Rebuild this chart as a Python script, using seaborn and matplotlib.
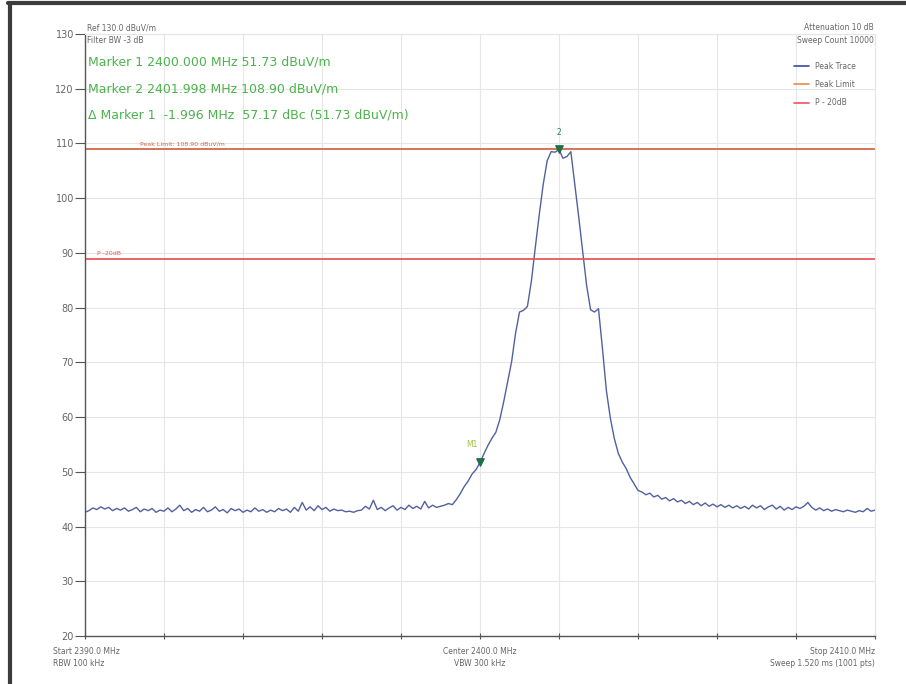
"""
Spectrum analyzer style plot of a 2.4 GHz emission (peak trace with limits).
"""
import numpy as np
import matplotlib.pyplot as plt
import seaborn as sns
from matplotlib.lines import Line2D

# sweep 2390 - 2410 MHz, trace read every 0.1 MHz
start_mhz = 2390.0
stop_mhz = 2410.0
peak_trace = [
    42.6, 42.9, 43.4, 43.1, 43.6, 43.2, 43.5, 42.9, 43.3, 43.0,
    43.4, 42.8, 43.1, 43.5, 42.7, 43.2, 42.9, 43.3, 42.6, 43.0,
    42.8, 43.4, 42.7, 43.2, 43.9, 42.9, 43.3, 42.6, 43.1, 42.8,
    43.5, 42.7, 43.0, 43.6, 42.8, 43.1, 42.5, 43.3, 42.9, 43.2,
    42.6, 43.0, 42.7, 43.4, 42.8, 43.1, 42.6, 43.0, 42.7, 43.3,
    42.9, 43.2, 42.6, 43.5, 42.8, 44.4, 43.0, 43.6, 42.9, 43.8,
    43.1, 43.5, 42.8, 43.2, 42.9, 43.0, 42.7, 42.8, 42.6, 42.9,
    43.0, 43.7, 43.2, 44.8, 43.1, 43.5, 42.9, 43.4, 43.8, 43.0,
    43.5, 43.1, 43.9, 43.3, 43.7, 43.2, 44.6, 43.4, 43.9, 43.5,
    43.7,
    43.9, 44.2, 44.0, 44.9, 46.0, 47.3, 48.3, 49.6, 50.4, 51.7,
    53.3, 54.8, 56.1, 57.2, 59.5, 62.8, 66.4, 70.1, 75.3, 79.2,
    79.5, 80.2, 84.8, 91.0, 97.0, 102.5, 106.8, 108.5, 108.4, 108.9,
    107.3, 107.6, 108.5, 102.5, 96.5, 90.2, 84.0, 79.6, 79.2, 79.8,
    72.5, 64.8, 59.8, 56.1, 53.4, 51.8, 50.6, 49.0, 47.8, 46.6,
    46.3, 45.8, 46.1, 45.4, 45.7, 45.0, 45.3, 44.7, 45.1, 44.5,
    44.8, 44.2, 44.6, 44.0, 44.4, 43.8, 44.3, 43.7, 44.1, 43.6,
    44.0, 43.5, 43.9, 43.4, 43.8, 43.3, 43.7, 43.2, 43.9, 43.4,
    43.8, 43.1, 43.6, 43.9, 43.2, 43.7, 43.0, 43.5, 43.1, 43.6,
    43.3, 43.7, 44.4, 43.5, 43.0, 43.4, 42.9, 43.2, 42.8, 43.1,
    42.9, 42.7, 43.0, 42.8, 42.6, 42.9, 42.7, 43.3, 42.8, 43.0,
]
peak_limit = 108.90
p_20db = 88.90
marker_freq = [2400.000, 2401.998]
marker_level = [51.73, 108.90]
marker_names = ['M1', '2']
y_ticks = [20, 30, 40, 50, 60, 70, 80, 90, 100, 110, 120, 130]
x_ticks = [2390, 2392, 2394, 2396, 2398, 2400, 2402, 2404, 2406, 2408, 2410]

trace_color = '#52609f'
limit_color = '#d2694a'
p20_color = '#e8575a'
marker_text_color = '#4cb34c'
gray_text = '#666666'

freq = np.linspace(start_mhz, stop_mhz, len(peak_trace))

sns.set_style('whitegrid', {'grid.color': '#e6e6e6', 'axes.edgecolor': '#555555'})
fig = plt.figure(figsize=(9.06, 6.84), dpi=100)
ax = fig.add_axes([0.0938, 0.0702, 0.872, 0.8801])

sns.lineplot(x=freq, y=peak_trace, ax=ax, color=trace_color, linewidth=1.0)
ax.axhline(peak_limit, color=limit_color, linewidth=1.3)
ax.axhline(p_20db, color=p20_color, linewidth=1.3)

# markers
ax.scatter(marker_freq, marker_level, marker='v', s=28, color='#1f6f4a', zorder=5)
ax.text(marker_freq[0] - 0.2, marker_level[0] + 2.5, marker_names[0], fontsize=5.5,
        color='#9bbf3a', ha='center', va='bottom')
ax.text(marker_freq[1], marker_level[1] + 2.3, marker_names[1], fontsize=5.5,
        color='#2f7f4a', ha='center', va='bottom')

ax.text(2391.4, peak_limit + 0.6, 'Peak Limit: 108.90 dBuV/m', fontsize=4.5,
        color=limit_color, va='bottom')
ax.text(2390.3, p_20db + 0.6, 'P -20dB', fontsize=4.5, color=p20_color, va='bottom')

ax.set_xlim(start_mhz, stop_mhz)
ax.set_ylim(20, 130)
ax.set_yticks(y_ticks)
ax.set_xticks(x_ticks)
ax.set_xticklabels([])
ax.tick_params(axis='y', labelsize=7, labelcolor=gray_text, length=7, width=0.8,
               left=True, color='#555555', pad=1)
ax.tick_params(axis='x', length=4, width=0.8, bottom=True, direction='inout', color='#555555')
for side in ['top', 'right']:
    ax.spines[side].set_color('#e6e6e6')
for side in ['left', 'bottom']:
    ax.spines[side].set_linewidth(1.0)

# header text
ax.text(0.003, 1.003, 'Ref 130.0 dBuV/m', transform=ax.transAxes, fontsize=5.5,
        color=gray_text, va='bottom')
ax.text(0.003, 0.997, 'Filter BW -3 dB', transform=ax.transAxes, fontsize=5.5,
        color=gray_text, va='top')
marker_lines = [
    'Marker 1 2400.000 MHz 51.73 dBuV/m',
    'Marker 2 2401.998 MHz 108.90 dBuV/m',
    '\u0394 Marker 1  -1.996 MHz  57.17 dBc (51.73 dBuV/m)',
]
for i, line in enumerate(marker_lines):
    ax.text(0.004, 0.953 - i * 0.044, line, transform=ax.transAxes, fontsize=9,
            color=marker_text_color, va='center')

ax.text(0.998, 1.003, 'Attenuation 10 dB', transform=ax.transAxes, fontsize=5.5,
        color=gray_text, va='bottom', ha='right')
ax.text(0.998, 0.997, 'Sweep Count 10000', transform=ax.transAxes, fontsize=5.5,
        color=gray_text, va='top', ha='right')

handles = [Line2D([], [], color='#3a4aa0', lw=1.2),
           Line2D([], [], color='#e0904a', lw=1.2),
           Line2D([], [], color=p20_color, lw=1.2)]
ax.legend(handles, ['Peak Trace', 'Peak Limit', 'P - 20dB'], loc='upper right',
          bbox_to_anchor=(0.985, 0.965), frameon=False, fontsize=5.5,
          handlelength=2.0, labelspacing=1.2, labelcolor=gray_text)

# footer text
ax.text(-0.04, -0.018, 'Start 2390.0 MHz\nRBW 100 kHz', transform=ax.transAxes,
        fontsize=5.5, color=gray_text, va='top', ha='left', linespacing=1.5)
ax.text(0.5, -0.018, 'Center 2400.0 MHz\nVBW 300 kHz', transform=ax.transAxes,
        fontsize=5.5, color=gray_text, va='top', ha='center', linespacing=1.5)
ax.text(1.0, -0.018, 'Stop 2410.0 MHz\nSweep 1.520 ms (1001 pts)', transform=ax.transAxes,
        fontsize=5.5, color=gray_text, va='top', ha='right', linespacing=1.5, multialignment='right')

# dark frame around the screenshot
fig.add_artist(Line2D([0.011, 0.011], [0.0, 0.996], transform=fig.transFigure,
                      color='#3c3c3c', lw=3))
fig.add_artist(Line2D([0.009, 1.0], [0.995, 0.995], transform=fig.transFigure,
                      color='#3c3c3c', lw=3))

fig.savefig('out.png', dpi=100)
plt.close(fig)
